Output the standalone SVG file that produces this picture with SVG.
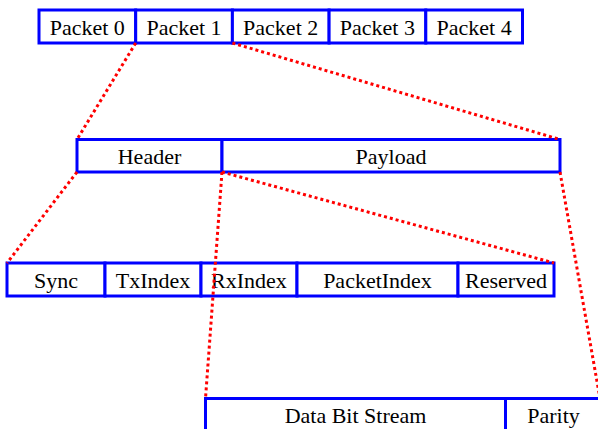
<svg xmlns="http://www.w3.org/2000/svg" width="598" height="429" viewBox="0 0 598 429">
<style>
.b{fill:#fff;stroke:#0000ff;stroke-width:3}
.t{font-family:"Liberation Serif","Times New Roman",serif;font-size:22px;fill:#000;text-anchor:middle}
.c{fill:none;stroke:#ff0000;stroke-width:3;stroke-dasharray:3 3}
</style>
<rect width="598" height="429" fill="#fff"/>
<g id="packets">
<g id="p0"><rect class="b" x="39" y="10" width="96.7" height="33"/><text class="t" x="87.3" y="35">Packet 0</text></g>
<g id="p1"><rect class="b" x="135.7" y="10" width="96.7" height="33"/><text class="t" x="184" y="35">Packet 1</text></g>
<g id="p2"><rect class="b" x="232.4" y="10" width="96.7" height="33"/><text class="t" x="280.7" y="35">Packet 2</text></g>
<g id="p3"><rect class="b" x="329.1" y="10" width="96.7" height="33"/><text class="t" x="377.4" y="35">Packet 3</text></g>
<g id="p4"><rect class="b" x="425.8" y="10" width="96.7" height="33"/><text class="t" x="474.1" y="35">Packet 4</text></g>
</g>
<g id="header"><rect class="b" x="77" y="139.5" width="145" height="32.5"/><text class="t" x="149.5" y="164">Header</text></g>
<g id="payload"><rect class="b" x="222" y="139.5" width="338" height="32.5"/><text class="t" x="391" y="164">Payload</text></g>
<g id="sync"><rect class="b" x="7" y="263" width="98" height="33"/><text class="t" x="56" y="288">Sync</text></g>
<g id="txindex"><rect class="b" x="105" y="263" width="96" height="33"/><text class="t" x="153" y="288">TxIndex</text></g>
<g id="rxindex"><rect class="b" x="201" y="263" width="96" height="33"/><text class="t" x="249" y="288">RxIndex</text></g>
<g id="packetindex"><rect class="b" x="297" y="263" width="161" height="33"/><text class="t" x="377.5" y="288">PacketIndex</text></g>
<g id="reserved"><rect class="b" x="458" y="263" width="96" height="33"/><text class="t" x="506" y="288">Reserved</text></g>
<g id="databits"><rect class="b" x="205.5" y="398.5" width="300" height="40"/><text class="t" x="355.5" y="423">Data Bit Stream</text></g>
<g id="parity"><rect class="b" x="505.5" y="398.5" width="96" height="40"/><text class="t" x="553.5" y="423">Parity</text></g>
<g id="connectors">
<line class="c" x1="135.7" y1="43" x2="77" y2="139.5"/>
<line class="c" x1="232.4" y1="43" x2="560" y2="139.5"/>
<line class="c" x1="77" y1="172" x2="7" y2="263"/>
<line class="c" x1="222" y1="172" x2="554" y2="263"/>
<line class="c" x1="222" y1="172" x2="205.5" y2="398.5"/>
<line class="c" x1="560" y1="172" x2="600" y2="398.5"/>
</g>
</svg>
